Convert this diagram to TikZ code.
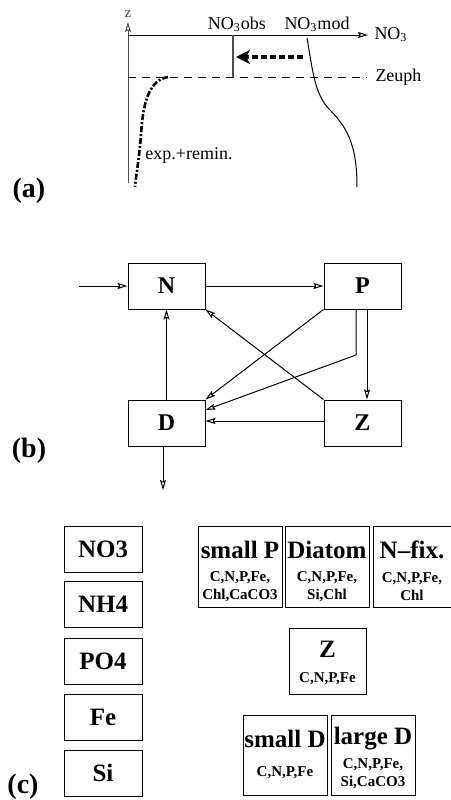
\documentclass[tikz,border=0pt]{standalone}
\usepackage{fontspec}
\setmainfont{Liberation Serif}
\usetikzlibrary{arrows.meta}
\usetikzlibrary{calc}
\usetikzlibrary{positioning}

\begin{document}
\begin{tikzpicture}[
  x=0.5pt, y=-0.5pt,
  > = {Stealth[open,length=5pt,width=3pt,inset=0.8pt]},
  line width=0.5pt,
  txt/.style = {font=\fontsize{9}{10}\selectfont, inner sep=0pt},
  tag/.style = {font=\fontsize{14}{16}\selectfont\bfseries, inner sep=0pt},
  blk/.style = {draw, minimum width=38.5pt, minimum height=23pt, inner sep=0pt,
                font=\fontsize{12}{14}\selectfont\bfseries},
  var/.style = {draw, minimum width=39pt, minimum height=23pt, inner sep=0pt,
                font=\fontsize{12.5}{14}\selectfont\bfseries},
  grp/.style = {draw, minimum width=42pt, minimum height=40.5pt, inner sep=0pt},
  ttl/.style = {font=\fontsize{12.5}{14}\selectfont\bfseries, inner sep=0pt},
  sub/.style = {font=\fontsize{7.5}{8.7}\selectfont\bfseries, align=center, inner sep=0pt}
  ]
	\useasboundingbox (0,0) rectangle (451,800);

	% (a) profile
	\coordinate (@0) at (128,35);
	\coordinate (@z) at (128,22);
	\coordinate (@zb) at (128,183);
	\coordinate (@x) at (368,35);
	\coordinate (@o1) at (233,35);
	\coordinate (@o2) at (233,77);
	\coordinate (@e1) at (128,77);
	\coordinate (@e2) at (367,77);

	\draw[->, gray!60!black] (@zb) -- (@z) node[above=2pt, font=\fontsize{7.5}{8}\selectfont, inner sep=0pt] (zlab) {z};
	\draw[->] (@0) -- (@x) node[right=3pt, txt, anchor=west] (nlab) {NO\textsubscript{3}};
	\draw[gray!60!black, line width=0.8pt] (@o1) -- (@o2);
	\draw[dashed, dash pattern=on 4pt off 3pt] (@e1) -- (@e2) node[right=4pt, txt, anchor=west] (zeu) {Zeuph};

	\node[txt] (obs) at (237,24) {NO\textsubscript{3}obs};
	\node[txt] (mod) at (317,24) {NO\textsubscript{3}mod};
	\node[txt, anchor=west] (rem) at (145,155) {exp.+remin.};

	\coordinate (@m1) at (303,57);
	\coordinate (@m2) at (236,57);
	\draw[line width=1.6pt, dash pattern=on 3pt off 1.5pt, -{Stealth[length=7pt,width=7pt,inset=2pt]}] (@m1) -- (@m2);

	\draw (307,38) .. controls (312,65) and (314,95) .. (330,110)
	      .. controls (350,130) and (357,150) .. (357,187);
	\draw[line width=1.3pt, dash pattern=on 3pt off 1pt on 1pt off 1pt]
	      (168,77) .. controls (150,80) and (143,100) .. (141,135)
	      .. controls (139,160) and (136,175) .. (135,187);

	\node[tag] (ta) at (29,191) {(a)};

	% (b) NPZD
	\node[blk] (N) at (166.5,286) {N};
	\node[blk] (P) at (362.5,286) {P};
	\node[blk] (D) at (166.5,423) {D};
	\node[blk] (Z) at (362.5,423) {Z};
	\coordinate (in) at (79,286);
	\coordinate (kink) at (356,355);
	\coordinate (out) at (163,490);

	\draw[->] (in) -- (N);
	\draw[->] (N) -- (P);
	\draw[->] (D) -- (N);
	\draw[->] (Z.north west) -- (N.south east);
	\draw[->] (P.south west) -- (D.north east);
	\draw[->] (P.south -| kink) -- (kink) -- ($(D.east)+(0,-13)$);
	\draw[->] ($(P.south)+(4.5,0)$) -- ($(Z.north)+(4.5,0)$);
	\draw[->] ($(Z.west)+(0,-2)$) -- ($(D.east)+(0,-2)$);
	\draw[->] (D.south -| out) -- (out);

	\node[tag] (tb) at (29,451) {(b)};

	% (c) tracers
	\node[var] (no3) at (103,549) {NO3};
	\node[var] (nh4) at (103,604.5) {NH4};
	\node[var] (po4) at (103,661) {PO4};
	\node[var] (fe) at (103,717) {Fe};
	\node[var] (si) at (103,773) {Si};

	\node[grp] (sp) at (240,566.5) {};
	\node[grp] (dia) at (327,566.5) {};
	\node[grp, minimum width=39pt] (nfx) at (412,566.5) {};
	\node[grp, minimum width=38.5pt, minimum height=33pt] (zoo) at (327.5,661) {};
	\node[grp, minimum height=40pt] (sd) at (285,755) {};
	\node[grp, minimum height=40pt] (ld) at (373,755) {};

	\node[ttl] (spt) at ($(sp.north)+(0,24)$) {small P};
	\node[sub] (sps) at ($(sp.north)+(0,61)$) {C,N,P,Fe,\\Chl,CaCO3};
	\node[ttl] (diat) at ($(dia.north)+(0,24)$) {Diatom};
	\node[sub] (dias) at ($(dia.north)+(0,61)$) {C,N,P,Fe,\\Si,Chl};
	\node[ttl] (nfxt) at ($(nfx.north)+(0,24)$) {N\textendash fix.};
	\node[sub] (nfxs) at ($(nfx.north)+(0,61)$) {C,N,P,Fe,\\Chl};
	\node[ttl] (zoot) at ($(zoo.north)+(0,22)$) {Z};
	\node[sub] (zoos) at ($(zoo.north)+(0,51)$) {C,N,P,Fe};
	\node[ttl] (sdt) at ($(sd.north)+(0,24)$) {small D};
	\node[sub] (sds) at ($(sd.north)+(0,58)$) {C,N,P,Fe};
	\node[ttl] (ldt) at ($(ld.north)+(0,24)$) {large D};
	\node[sub] (lds) at ($(ld.north)+(0,59)$) {C,N,P,Fe,\\Si,CaCO3};

	\node[tag] (tc) at (23,787) {(c)};

\end{tikzpicture}
\end{document}
